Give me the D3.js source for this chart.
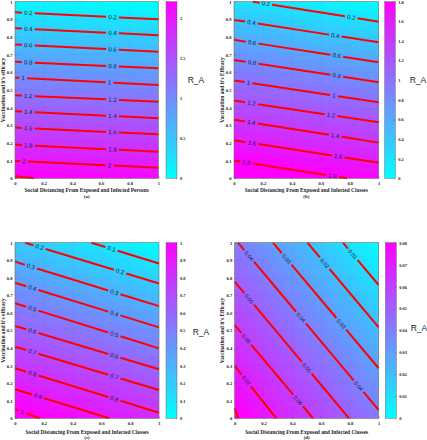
<!DOCTYPE html>
<html><head><meta charset="utf-8">
<script src="https://cdn.jsdelivr.net/npm/d3@7/dist/d3.min.js"></script>
<style>body{margin:0;background:#fff}svg{display:block}</style>
</head><body>
<svg id="chart" width="427" height="440"></svg>
<script>
// ---------------- DATA ----------------
const xTickValues = [0, 0.2, 0.4, 0.6, 0.8, 1];
const yTickValues = [0, 0.1, 0.2, 0.3, 0.4, 0.5, 0.6, 0.7, 0.8, 0.9, 1];
const panelTags = ["(a)", "(b)", "(c)", "(d)"];
const xTitles = [
  "Social Distancing From Exposed and Infected Persons",
  "Social Distancing From Exposed and Infected Classes",
  "Social Distancing From Exposed and Infected Classes",
  "Social Distancing From Exposed and Infected Classes"
];
const yTitles = [
  "Vaccination and it's efficacy",
  "Vaccination and it's Efficacy",
  "Vaccination and it's efficacy",
  "Vaccination and it's Efficacy"
];
const colorbarTitle = "R_A";

// surface values at the corners: [[R(0,0), R(1,0)], [R(0,1), R(1,1)]]
const surfaceA = [[2.21, 2.125], [0.07, -0.016]];
const surfaceB = [[1.976, 1.754], [0.219, 0.002]];
const surfaceC = [[1.043, 0.832], [0.208, 0.0]];
const surfaceD = [[0.0824, 0.0414], [0.041, 0.0]];

// colour-bar limits and ticks
const cbarMaxima = [2.2, 1.8, 1.0, 0.08];
const cbarTicksA = [0, 0.5, 1, 1.5, 2];
const cbarTicksB = [0, 0.2, 0.4, 0.6, 0.8, 1, 1.2, 1.4, 1.6, 1.8];
const cbarTicksC = [0, 0.1, 0.2, 0.3, 0.4, 0.5, 0.6, 0.7, 0.8, 0.9, 1];
const cbarTicksD = [0, 0.01, 0.02, 0.03, 0.04, 0.05, 0.06, 0.07, 0.08];

// contour levels, their end points [x0, y0, x1, y1] and label x-positions
const levelsA = [0.2, 0.4, 0.6, 0.8, 1, 1.2, 1.4, 1.6, 1.8, 2, 2.2];
const linesA = [
  [0, 0.94, 1, 0.90], [0, 0.85, 1, 0.81], [0, 0.758, 1, 0.717], [0, 0.66, 1, 0.623],
  [0, 0.57, 1, 0.528], [0, 0.47, 1, 0.434], [0, 0.38, 1, 0.34], [0, 0.287, 1, 0.249],
  [0, 0.19, 1, 0.15], [0, 0.098, 1, 0.06], [0, 0.012, 0.13, 0]
];
const labelXA = [
  [0.093, 0.68], [0.093, 0.68], [0.093, 0.68], [0.093, 0.68], [0.058, 0.66],
  [0.093, 0.68], [0.093, 0.68], [0.093, 0.68], [0.093, 0.68], [0.063, 0.66], []
];

const levelsB = [0.2, 0.4, 0.6, 0.8, 1, 1.2, 1.4, 1.6, 1.8];
const linesB = [
  [0.13, 1, 1, 0.887], [0, 0.897, 1, 0.77], [0, 0.784, 1, 0.657], [0, 0.67, 1, 0.544],
  [0, 0.554, 1, 0.43], [0, 0.44, 1, 0.317], [0, 0.332, 1, 0.202], [0, 0.215, 1, 0.088],
  [0, 0.10, 0.78, 0]
];
const labelXB = [
  [0.22, 0.81], [0.12, 0.70], [0.125, 0.71], [0.125, 0.71], [0.10, 0.69],
  [0.12, 0.67], [0.12, 0.70], [0.125, 0.72], [0.085, 0.68]
];

const levelsC = [0.1, 0.2, 0.3, 0.4, 0.5, 0.6, 0.7, 0.8, 0.9, 1];
const linesC = [
  [0.53, 1, 1, 0.882], [0.07, 1, 1, 0.768], [0, 0.892, 1, 0.639], [0, 0.772, 1, 0.518],
  [0, 0.655, 1, 0.398], [0, 0.526, 1, 0.279], [0, 0.408, 1, 0.161], [0, 0.285, 1, 0.032],
  [0, 0.165, 0.655, 0], [0, 0.051, 0.17, 0]
];
const labelXC = [
  [0.67], [0.17, 0.73], [0.11, 0.69], [0.12, 0.69], [0.12, 0.69],
  [0.12, 0.69], [0.12, 0.69], [0.12, 0.69], [0.16], [0.05]
];

const levelsD = [0.01, 0.02, 0.03, 0.04, 0.05, 0.06, 0.07, 0.08];
const linesD = [
  [0.752, 1, 1, 0.759], [0.505, 1, 1, 0.518], [0.266, 1, 1, 0.285], [0.023, 1, 1, 0.047],
  [0, 0.778, 0.794, 0], [0, 0.531, 0.544, 0], [0, 0.298, 0.289, 0], [0, 0.057, 0.023, 0]
];
const labelXD = [
  [0.82], [0.625], [0.36, 0.74], [0.10, 0.46, 0.86], [0.10, 0.50], [0.08, 0.44], [0.08], []
];

// ---------------- LAYOUT ----------------
const layouts = [
  {plot: [15, 158.3, 1.7, 178.3], cb: [166, 177], cbTitle: [196, 80], yTitleX: 3, xTitleY: 190, tagY: 196.5, labelSize: 6},
  {plot: [234, 378.7, 1.7, 178.3], cb: [384.7, 395.3], cbTitle: [418, 80], yTitleX: 222, xTitleY: 190, tagY: 196.5, labelSize: 6},
  {plot: [15, 159, 242.7, 418.3], cb: [166, 177], cbTitle: [201, 331.5], yTitleX: 3, xTitleY: 431.5, tagY: 437, labelSize: 6},
  {plot: [234.7, 378.7, 242.7, 418.3], cb: [385.3, 396.3], cbTitle: [419, 328], yTitleX: 222, xTitleY: 431.5, tagY: 437, labelSize: 5.5}
];

const panels = [
  {surface: surfaceA, levels: levelsA, lines: linesA, labelX: labelXA, cbMax: cbarMaxima[0], cbTicks: cbarTicksA},
  {surface: surfaceB, levels: levelsB, lines: linesB, labelX: labelXB, cbMax: cbarMaxima[1], cbTicks: cbarTicksB},
  {surface: surfaceC, levels: levelsC, lines: linesC, labelX: labelXC, cbMax: cbarMaxima[2], cbTicks: cbarTicksC},
  {surface: surfaceD, levels: levelsD, lines: linesD, labelX: labelXD, cbMax: cbarMaxima[3], cbTicks: cbarTicksD}
];

const svg = d3.select("#chart");
const serif = "'Liberation Serif','Times New Roman',serif";
const sans = "'Liberation Sans',Arial,sans-serif";
const defs = svg.append("defs");
const grad = defs.append("linearGradient").attr("id", "coolGrad")
  .attr("x1", 0).attr("y1", 1).attr("x2", 0).attr("y2", 0);
grad.append("stop").attr("offset", "0%").attr("stop-color", "#00ffff");
grad.append("stop").attr("offset", "100%").attr("stop-color", "#ff00ff");

panels.forEach((p, i) => {
  const L = layouts[i];
  const [px0, px1, py0, py1] = L.plot;
  const x = d3.scaleLinear().domain([0, 1]).range([px0, px1]);
  const y = d3.scaleLinear().domain([0, 1]).range([py1, py0]);
  const cScale = d3.scaleLinear().domain([0, p.cbMax]).range([0, 1]).clamp(true);
  const g = svg.append("g");

  // ---- filled surface (shaded) ----
  const w = Math.round(px1 - px0), h = Math.round(py1 - py0);
  const canvas = document.createElement("canvas");
  canvas.width = w; canvas.height = h;
  const ctx = canvas.getContext("2d");
  const img = ctx.createImageData(w, h);
  const s = p.surface;
  for (let j = 0; j < h; j++) {
    const yv = y.invert(py0 + (j + 0.5) * (py1 - py0) / h);
    for (let k = 0; k < w; k++) {
      const xv = x.invert(px0 + (k + 0.5) * (px1 - px0) / w);
      const v = s[0][0] * (1 - xv) * (1 - yv) + s[0][1] * xv * (1 - yv) +
                s[1][0] * (1 - xv) * yv + s[1][1] * xv * yv;
      const t = cScale(v);
      const idx = (j * w + k) * 4;
      img.data[idx] = Math.round(255 * t);
      img.data[idx + 1] = Math.round(255 * (1 - t));
      img.data[idx + 2] = 255;
      img.data[idx + 3] = 255;
    }
  }
  ctx.putImageData(img, 0, 0);
  g.append("image").attr("href", canvas.toDataURL())
    .attr("x", px0).attr("y", py0).attr("width", px1 - px0).attr("height", py1 - py0)
    .attr("preserveAspectRatio", "none");

  // ---- grid ----
  const grid = g.append("g").attr("stroke", "#404040").attr("stroke-opacity", 0.18)
    .attr("stroke-width", 0.5).attr("stroke-dasharray", "1,1.5");
  xTickValues.slice(1, -1).forEach(v => grid.append("line")
    .attr("x1", x(v)).attr("x2", x(v)).attr("y1", py0).attr("y2", py1));
  yTickValues.slice(1, -1).forEach(v => grid.append("line")
    .attr("y1", y(v)).attr("y2", y(v)).attr("x1", px0).attr("x2", px1));

  // ---- contour lines with inline labels ----
  const cl = g.append("g");
  p.lines.forEach((ln, li) => {
    const [a0, b0, a1, b1] = ln;
    const P0 = [x(a0), y(b0)], P1 = [x(a1), y(b1)];
    const dx = P1[0] - P0[0], dy = P1[1] - P0[1];
    const len = Math.hypot(dx, dy);
    const ang = Math.atan2(dy, dx) * 180 / Math.PI;
    const gaps = [];
    p.labelX[li].forEach(lx => {
      const t = (lx - a0) / (a1 - a0);
      const cx = P0[0] + t * dx, cy = P0[1] + t * dy;
      const txt = cl.append("text").text(String(p.levels[li]))
        .attr("font-family", sans).attr("font-size", L.labelSize)
        .attr("fill", "#14142a").attr("text-anchor", "middle")
        .attr("dominant-baseline", "central")
        .attr("transform", `translate(${cx},${cy}) rotate(${ang})`);
      const tw = txt.node().getComputedTextLength();
      gaps.push([t * len - tw / 2 - 2.2, t * len + tw / 2 + 2.2]);
    });
    gaps.sort((m, n) => m[0] - n[0]);
    let start = 0;
    const segs = [];
    gaps.forEach(gp => { if (gp[0] > start) segs.push([start, gp[0]]); start = gp[1]; });
    if (start < len) segs.push([start, len]);
    segs.forEach(sg => {
      cl.insert("line", "text")
        .attr("x1", P0[0] + dx * sg[0] / len).attr("y1", P0[1] + dy * sg[0] / len)
        .attr("x2", P0[0] + dx * sg[1] / len).attr("y2", P0[1] + dy * sg[1] / len)
        .attr("stroke", "#ff0000").attr("stroke-width", 2);
    });
  });

  // ---- axes box and ticks ----
  g.append("rect").attr("x", px0).attr("y", py0).attr("width", px1 - px0).attr("height", py1 - py0)
    .attr("fill", "none").attr("stroke", "#6b6b6b").attr("stroke-width", 0.6);
  const xAxis = d3.axisBottom(x).tickValues(xTickValues).tickSize(-2).tickPadding(3)
    .tickFormat(d3.format("~g"));
  const yAxis = d3.axisLeft(y).tickValues(yTickValues).tickSize(-2).tickPadding(2.5)
    .tickFormat(d3.format("~g"));
  const gx = g.append("g").attr("transform", `translate(0,${py1})`).call(xAxis);
  const gy = g.append("g").attr("transform", `translate(${px0},0)`).call(yAxis);
  [gx, gy].forEach(ax => {
    ax.select(".domain").remove();
    ax.selectAll(".tick line").attr("stroke", "#555").attr("stroke-width", 0.4);
    ax.selectAll(".tick text").attr("font-family", serif).attr("font-weight", "bold")
      .attr("font-size", 4.6).attr("fill", "#222");
  });

  // ---- titles ----
  g.append("text").text(xTitles[i]).attr("x", (px0 + px1) / 2).attr("y", L.xTitleY)
    .attr("text-anchor", "middle").attr("dominant-baseline", "central")
    .attr("font-family", serif).attr("font-weight", "bold").attr("font-size", 5.4).attr("fill", "#222");
  g.append("text").text(panelTags[i]).attr("x", (px0 + px1) / 2).attr("y", L.tagY)
    .attr("text-anchor", "middle").attr("dominant-baseline", "central")
    .attr("font-family", serif).attr("font-weight", "bold").attr("font-size", 5).attr("fill", "#222");
  g.append("text").text(yTitles[i])
    .attr("transform", `translate(${L.yTitleX},${(py0 + py1) / 2}) rotate(-90)`)
    .attr("text-anchor", "middle").attr("dominant-baseline", "central")
    .attr("font-family", serif).attr("font-weight", "bold").attr("font-size", 5.4).attr("fill", "#222");

  // ---- colour bar ----
  const [cb0, cb1] = L.cb;
  const cy = d3.scaleLinear().domain([0, p.cbMax]).range([py1, py0]);
  g.append("rect").attr("x", cb0).attr("y", py0).attr("width", cb1 - cb0).attr("height", py1 - py0)
    .attr("fill", "url(#coolGrad)").attr("stroke", "#6b6b6b").attr("stroke-width", 0.5);
  const cAxis = d3.axisRight(cy).tickValues(p.cbTicks).tickSize(-1.5).tickPadding(3)
    .tickFormat(d3.format("~g"));
  const gc = g.append("g").attr("transform", `translate(${cb1},0)`).call(cAxis);
  gc.select(".domain").remove();
  gc.selectAll(".tick line").attr("stroke", "#555").attr("stroke-width", 0.4);
  gc.selectAll(".tick text").attr("font-family", serif).attr("font-weight", "bold")
    .attr("font-size", 4.4).attr("fill", "#222");
  g.append("text").text(colorbarTitle).attr("x", L.cbTitle[0]).attr("y", L.cbTitle[1])
    .attr("text-anchor", "middle").attr("dominant-baseline", "central")
    .attr("font-family", sans).attr("font-size", 8.5).attr("fill", "#222");
});
</script>
</body></html>
